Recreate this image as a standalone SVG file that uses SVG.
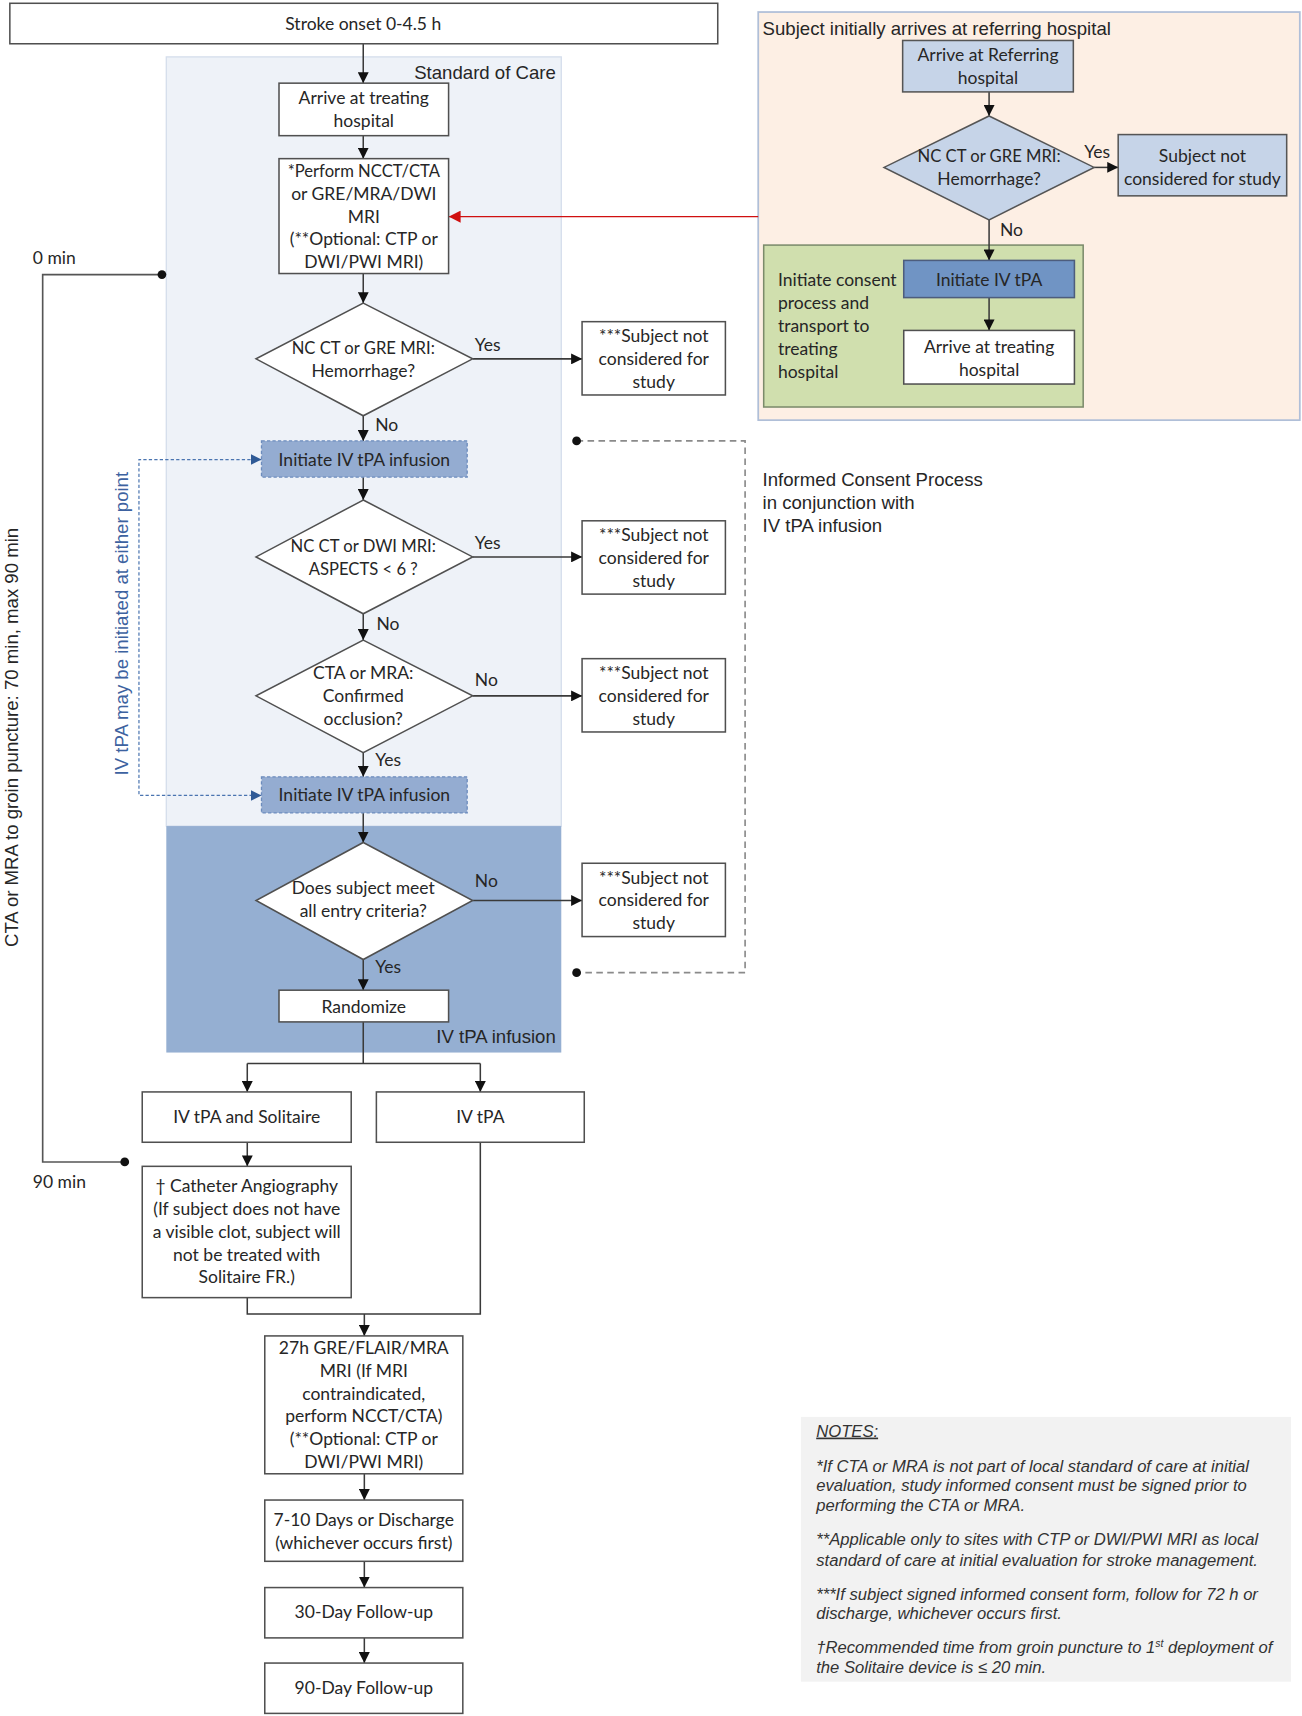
<svg xmlns="http://www.w3.org/2000/svg" width="1302" height="1716" viewBox="0 0 1302 1716">
<defs>
<style>
.box{fill:#fff;stroke:#505050;stroke-width:1.4}
.bl{fill:#c6d4e8;stroke:#555;stroke-width:1.4}
.t{font-family:Lato,"Liberation Sans",sans-serif;font-size:16px;fill:#262626;text-anchor:middle}
.s{font-size:15.2px}
.tl{font-family:Lato,"Liberation Sans",sans-serif;font-size:16px;fill:#262626}
.a{font-family:"Liberation Sans",Arial,sans-serif;font-size:17px;fill:#262626}
.n{font-family:"Liberation Sans",Arial,sans-serif;font-size:15.2px;font-style:italic;fill:#333}
.ln{fill:none;stroke:#3a3a3a;stroke-width:1.4}
.dash{fill:#94acd1;stroke:#6c8cbd;stroke-width:1.2;stroke-dasharray:3 2}
</style>
<marker id="ah" viewBox="0 0 10 10" refX="10" refY="5" markerWidth="10" markerHeight="10" markerUnits="userSpaceOnUse" orient="auto"><path d="M0,0 L10,5 L0,10 z" fill="#111"/></marker>
<marker id="ahb" viewBox="0 0 10 10" refX="10" refY="5" markerWidth="10" markerHeight="10" markerUnits="userSpaceOnUse" orient="auto"><path d="M0,0 L10,5 L0,10 z" fill="#2f5a96"/></marker>
<marker id="ahr" viewBox="0 0 10 10" refX="10" refY="5" markerWidth="11" markerHeight="11" markerUnits="userSpaceOnUse" orient="auto"><path d="M0,0 L10,5 L0,10 z" fill="#d01010"/></marker>
</defs>
<rect width="1302" height="1716" fill="#fff"/>
<g transform="scale(1.09412)">
<g id="regions">
<rect x="152" y="52" width="361" height="703" fill="#eef2f8" stroke="#d5deec" stroke-width="1.2"/>
<text x="508" y="72" class="a" text-anchor="end">Standard of Care</text>
<rect x="152" y="755" width="361" height="207" fill="#95afd2"/>
<text x="508" y="953" class="a" text-anchor="end">IV tPA infusion</text>
<rect x="693" y="11" width="495" height="373" fill="#fdefe4" stroke="#b0bfd8" stroke-width="1.6"/>
<text x="697" y="32" class="a">Subject initially arrives at referring hospital</text>
<rect x="698" y="224" width="292" height="148" fill="#d0dfae" stroke="#7b8b6b" stroke-width="1.4"/>
<rect x="732" y="1295" width="448" height="242" fill="#f2f2f2"/>
</g>
<g id="connectors">
<path class="ln" d="M332,40V76" marker-end="url(#ah)"/>
<path class="ln" d="M332,124V145" marker-end="url(#ah)"/>
<path class="ln" d="M332,250V277" marker-end="url(#ah)"/>
<path class="ln" d="M432,328H532" marker-end="url(#ah)"/>
<path class="ln" d="M332,380V403" marker-end="url(#ah)"/>
<path class="ln" d="M332,436V457" marker-end="url(#ah)"/>
<path class="ln" d="M432,509H532" marker-end="url(#ah)"/>
<path class="ln" d="M332,561V585" marker-end="url(#ah)"/>
<path class="ln" d="M432,636H532" stroke="#999" stroke-width="1.6" fill="none" marker-end="url(#ah)"/>
<path class="ln" d="M332,688V710" marker-end="url(#ah)"/>
<path class="ln" d="M332,743V770" marker-end="url(#ah)"/>
<path class="ln" d="M432,823H532" stroke="#555" marker-end="url(#ah)"/>
<path class="ln" d="M332,877V905" marker-end="url(#ah)"/>
<path class="ln" d="M332,934V972M226,972H439"/>
<path class="ln" d="M226,972V998" marker-end="url(#ah)"/>
<path class="ln" d="M439,972V998" marker-end="url(#ah)"/>
<path class="ln" d="M226,1044V1066" marker-end="url(#ah)"/>
<path class="ln" d="M226,1186V1201H439V1044"/>
<path class="ln" d="M333,1201V1221" marker-end="url(#ah)"/>
<path class="ln" d="M333,1347V1371" marker-end="url(#ah)"/>
<path class="ln" d="M333,1427V1451" marker-end="url(#ah)"/>
<path class="ln" d="M333,1497V1520" marker-end="url(#ah)"/>
<path class="ln" d="M904,84V106" marker-end="url(#ah)"/>
<path class="ln" d="M1000,153H1022" marker-end="url(#ah)"/>
<path class="ln" d="M904,201V238" marker-end="url(#ah)"/>
<path class="ln" d="M904,272V302" marker-end="url(#ah)"/>
<path d="M693,198H410" fill="none" stroke="#d01010" stroke-width="1.2" marker-end="url(#ahr)"/>
<path d="M148,251H39V1062H114" fill="none" stroke="#555" stroke-width="1.5"/>
<circle cx="148" cy="251" r="4" fill="#111"/>
<circle cx="114" cy="1062" r="4" fill="#111"/>
<path d="M239,420H127V727H239" fill="none" stroke="#4a74b0" stroke-width="1.1" stroke-dasharray="3 2"/>
<path d="M229,420H239" stroke="none" fill="none" marker-end="url(#ahb)"/>
<path d="M229,727H239" stroke="none" fill="none" marker-end="url(#ahb)"/>
<path d="M527,403H681V889H527" fill="none" stroke="#8a8a8a" stroke-width="1.5" stroke-dasharray="6 4"/>
<circle cx="527" cy="403" r="4" fill="#111"/>
<circle cx="527" cy="889" r="4" fill="#111"/>
</g>
<g id="n-stroke"><rect class="box" x="9" y="3" width="647" height="37"/><text class="t" x="332" y="27">Stroke onset 0-4.5 h</text></g>
<g id="n-arrive"><rect class="box" x="255" y="76" width="155" height="48"/><text class="t" x="332.5"><tspan x="332.5" y="95.5">Arrive at treating</tspan><tspan x="332.5" y="116.5">hospital</tspan></text></g>
<g id="n-perform"><rect class="box" x="255" y="145" width="155" height="105"/><text class="t"><tspan x="332.5" y="161.5" class="s">*Perform NCCT/CTA</tspan><tspan x="332.5" y="182.5">or GRE/MRA/DWI</tspan><tspan x="332.5" y="203.5">MRI</tspan><tspan x="332.5" y="223.5">(**Optional: CTP or</tspan><tspan x="332.5" y="244.5">DWI/PWI MRI)</tspan></text></g>
<g id="n-d1"><polygon class="box" points="332,277 432,328 332,380 234,328"/><text class="t"><tspan x="332" y="323.5" class="s">NC CT or GRE MRI:</tspan><tspan x="332" y="344.5">Hemorrhage?</tspan></text><text class="tl" x="434" y="321">Yes</text><text class="tl" x="343" y="394">No</text></g>
<g id="n-x1"><rect class="box" x="532" y="294" width="131" height="67"/><text class="t"><tspan x="597.5" y="312.5">***Subject not</tspan><tspan x="597.5" y="333.5">considered for</tspan><tspan x="597.5" y="354.5">study</tspan></text></g>
<g id="n-tpa1"><rect class="dash" x="239" y="403" width="188" height="33"/><text class="t" x="333" y="425.5">Initiate IV tPA infusion</text></g>
<g id="n-d2"><polygon class="box" points="332,457 432,509 332,561 234,509"/><text class="t"><tspan x="332" y="504.5" class="s">NC CT or DWI MRI:</tspan><tspan x="332" y="525.5" class="s">ASPECTS &lt; 6 ?</tspan></text><text class="tl" x="434" y="502">Yes</text><text class="tl" x="344" y="576">No</text></g>
<g id="n-x2"><rect class="box" x="532" y="476" width="131" height="67"/><text class="t"><tspan x="597.5" y="494.5">***Subject not</tspan><tspan x="597.5" y="515.5">considered for</tspan><tspan x="597.5" y="536.5">study</tspan></text></g>
<g id="n-d3"><polygon class="box" points="332,585 432,636 332,688 234,636"/><text class="t"><tspan x="332" y="620.5">CTA or MRA:</tspan><tspan x="332" y="641.5">Confirmed</tspan><tspan x="332" y="662.5">occlusion?</tspan></text><text class="tl" x="434" y="627">No</text><text class="tl" x="343" y="700">Yes</text></g>
<g id="n-x3"><rect class="box" x="532" y="602" width="131" height="67"/><text class="t"><tspan x="597.5" y="620.5">***Subject not</tspan><tspan x="597.5" y="641.5">considered for</tspan><tspan x="597.5" y="662.5">study</tspan></text></g>
<g id="n-tpa2"><rect class="dash" x="239" y="710" width="188" height="33"/><text class="t" x="333" y="732.5">Initiate IV tPA infusion</text></g>
<g id="n-d4"><polygon class="box" points="332,770 432,823 332,877 234,823"/><text class="t"><tspan x="332" y="817.5">Does subject meet</tspan><tspan x="332" y="838.5">all entry criteria?</tspan></text><text class="tl" x="434" y="811">No</text><text class="tl" x="343" y="889">Yes</text></g>
<g id="n-x4"><rect class="box" x="532" y="789" width="131" height="67"/><text class="t"><tspan x="597.5" y="807.5">***Subject not</tspan><tspan x="597.5" y="828.5">considered for</tspan><tspan x="597.5" y="849.5">study</tspan></text></g>
<g id="n-rand"><rect class="box" x="255" y="905" width="155" height="29"/><text class="t" x="332.5" y="925.5">Randomize</text></g>
<g id="n-sol"><rect class="box" x="130" y="998" width="191" height="46"/><text class="t" x="225.5" y="1026.5">IV tPA and Solitaire</text></g>
<g id="n-ivtpa"><rect class="box" x="344" y="998" width="190" height="46"/><text class="t" x="439" y="1026.5">IV tPA</text></g>
<g id="n-cath"><rect class="box" x="130" y="1066" width="191" height="120"/><text class="t"><tspan x="225.5" y="1089.5">† Catheter Angiography</tspan><tspan x="225.5" y="1110.5">(If subject does not have</tspan><tspan x="225.5" y="1131.5">a visible clot, subject will</tspan><tspan x="225.5" y="1152.5">not be treated with</tspan><tspan x="225.5" y="1172.5">Solitaire FR.)</tspan></text></g>
<g id="n-27h"><rect class="box" x="242" y="1221" width="181" height="126"/><text class="t"><tspan x="332.5" y="1237.5">27h GRE/FLAIR/MRA</tspan><tspan x="332.5" y="1258.5">MRI (If MRI</tspan><tspan x="332.5" y="1279.5">contraindicated,</tspan><tspan x="332.5" y="1299.5">perform NCCT/CTA)</tspan><tspan x="332.5" y="1320.5">(**Optional: CTP or</tspan><tspan x="332.5" y="1341.5">DWI/PWI MRI)</tspan></text></g>
<g id="n-710"><rect class="box" x="242" y="1371" width="181" height="56"/><text class="t"><tspan x="332.5" y="1394.5">7-10 Days or Discharge</tspan><tspan x="332.5" y="1415.5">(whichever occurs first)</tspan></text></g>
<g id="n-30"><rect class="box" x="242" y="1451" width="181" height="46"/><text class="t" x="332.5" y="1478.5">30-Day Follow-up</text></g>
<g id="n-90"><rect class="box" x="242" y="1520" width="181" height="46"/><text class="t" x="332.5" y="1548.5">90-Day Follow-up</text></g>
<g id="n-refarrive"><rect class="bl" x="825" y="37" width="156" height="47"/><text class="t"><tspan x="903" y="55.5">Arrive at Referring</tspan><tspan x="903" y="76.5">hospital</tspan></text></g>
<g id="n-refd"><polygon class="bl" points="904,106 1000,153 904,201 808,153"/><text class="t"><tspan x="904" y="148.5" class="s">NC CT or GRE MRI:</tspan><tspan x="904" y="169.5">Hemorrhage?</tspan></text><text class="tl" x="991" y="144">Yes</text><text class="tl" x="914" y="216">No</text></g>
<g id="n-refnot"><rect class="bl" x="1022" y="123" width="154" height="56"/><text class="t"><tspan x="1099" y="148.5">Subject not</tspan><tspan x="1099" y="169.5">considered for study</tspan></text></g>
<g id="n-reftpa"><rect x="826" y="238" width="156" height="34" fill="#7094c4" stroke="#4d5d7d" stroke-width="1.4"/><text class="t" x="904" y="261.5">Initiate IV tPA</text></g>
<g id="n-reftreat"><rect class="box" x="826" y="302" width="156" height="49"/><text class="t"><tspan x="904" y="322.5">Arrive at treating</tspan><tspan x="904" y="343.5">hospital</tspan></text></g>
<g id="n-consent"><text class="tl"><tspan x="711" y="261.5">Initiate consent</tspan><tspan x="711" y="282.5">process and</tspan><tspan x="711" y="303.5">transport to</tspan><tspan x="711" y="324.5">treating</tspan><tspan x="711" y="345.5">hospital</tspan></text></g>
<g id="labels">
<text class="tl" x="30" y="241">0 min</text>
<text class="tl" x="30" y="1086">90 min</text>
<text class="a" text-anchor="middle" transform="translate(16,674) rotate(-90)">CTA or MRA to groin puncture: 70 min, max 90 min</text>
<text class="a" text-anchor="middle" style="fill:#3d62a0" transform="translate(117,570) rotate(-90)">IV tPA may be initiated at either point</text>
<text class="a"><tspan x="697" y="444">Informed Consent Process</tspan><tspan x="697" y="465">in conjunction with</tspan><tspan x="697" y="486">IV tPA infusion</tspan></text>
</g>
<g id="notes">
<text class="n" x="746" y="1313" text-decoration="underline">NOTES:</text>
<text class="n"><tspan x="746" y="1345">*If CTA or MRA is not part of local standard of care at initial</tspan><tspan x="746" y="1363">evaluation, study informed consent must be signed prior to</tspan><tspan x="746" y="1381">performing the CTA or MRA.</tspan><tspan x="746" y="1412">**Applicable only to sites with CTP or DWI/PWI MRI as local</tspan><tspan x="746" y="1431">standard of care at initial evaluation for stroke management.</tspan><tspan x="746" y="1462">***If subject signed informed consent form, follow for 72 h or</tspan><tspan x="746" y="1480">discharge, whichever occurs first.</tspan><tspan x="746" y="1511">†Recommended time from groin puncture to 1</tspan><tspan font-size="9.5" dy="-6">st</tspan><tspan dy="6"> deployment of</tspan><tspan x="746" y="1529">the Solitaire device is ≤ 20 min.</tspan></text>
</g>
</g>
</svg>
